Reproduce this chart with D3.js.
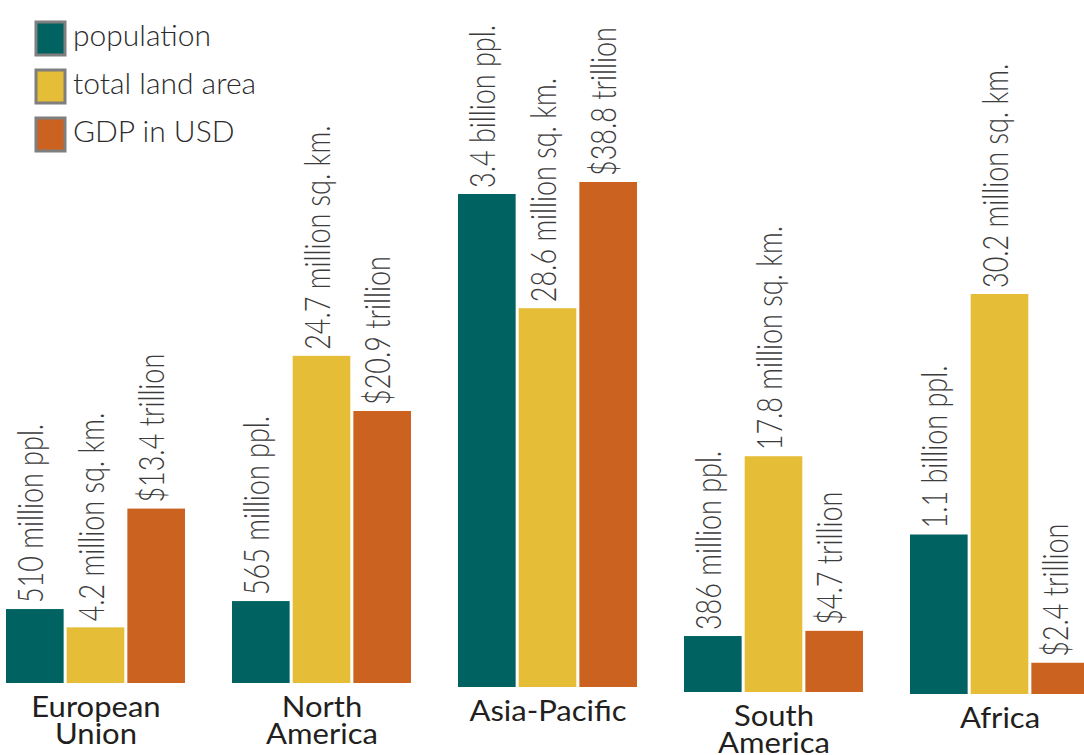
<!DOCTYPE html>
<html>
<head>
<meta charset="utf-8">
<script src="https://cdn.jsdelivr.net/npm/d3@7"></script>
<style>
  html, body { margin: 0; padding: 0; background: #fff; }
  svg { display: block; }
</style>
</head>
<body>
<div id="chart"></div>
<script>
// regions, split in the lines they are printed on
const regions = ["European Union", "North America", "Asia-Pacific", "South America", "Africa"];
const regionLines = [["European", "Union"], ["North", "America"], ["Asia-Pacific"], ["South", "America"], ["Africa"]];

// series values
const metrics = ["population", "total land area", "GDP in USD"];
const population = [510, 565, 3400, 386, 1100];   // million people
const landArea = [4.2, 24.7, 28.6, 17.8, 30.2];     // million sq. km.
const gdp = [13.4, 20.9, 38.8, 4.7, 2.4];           // trillion USD

// value labels
const populationLabels = ["510 million ppl.", "565 million ppl.", "3.4 billion ppl.", "386 million ppl.", "1.1 billion ppl."];
const landLabels = ["4.2 million sq. km.", "24.7 million sq. km.", "28.6 million sq. km.", "17.8 million sq. km.", "30.2 million sq. km."];
const gdpLabels = ["$13.4 trillion", "$20.9 trillion", "$38.8 trillion", "$4.7 trillion", "$2.4 trillion"];

const colors = ["#006361", "#e5bd36", "#cc621f"];

const width = 1084, height = 755;

// the picture's baseline sinks a little to the right
const baselines = [683, 683, 687, 692, 694];

const svg = d3.select("#chart").append("svg")
    .attr("width", width)
    .attr("height", height);

// group and bar positions
const x0 = d3.scaleBand().domain(regions).range([6, 6 + 226 * regions.length]);
const x1 = d3.scaleBand().domain(metrics).range([0, 179]).paddingInner(0.05);

// each metric has its own height scale
const heightScales = [
    d3.scaleLinear().domain([0, 3400]).range([0, 493]),
    d3.scaleLinear().domain([0, 30.2]).range([0, 400]),
    d3.scaleLinear().domain([0, 38.8]).range([0, 505])
];
const seriesValues = [population, landArea, gdp];
const seriesLabels = [populationLabels, landLabels, gdpLabels];

const bars = regions.flatMap((region, i) => metrics.map((m, j) => ({
    region, i, metric: m, j,
    value: seriesValues[j][i],
    label: seriesLabels[j][i]
})));

const barX = d => x0(d.region) + x1(d.metric);
const barTop = d => baselines[d.i] - heightScales[d.j](d.value);

// draw the bars
svg.append("g")
    .selectAll("rect")
    .data(bars)
    .join("rect")
    .attr("x", barX)
    .attr("y", barTop)
    .attr("width", x1.bandwidth())
    .attr("height", d => heightScales[d.j](d.value))
    .attr("fill", d => colors[d.j]);

// rotated value labels above the bars (glyphs widened like the reference)
svg.append("g")
    .attr("font-family", "Lato, 'Open Sans', sans-serif")
    .attr("font-weight", 300)
    .attr("font-size", 27)
    .attr("fill", "#3c3c3c")
    .selectAll("text")
    .data(bars)
    .join("text")
    .attr("transform", d => `translate(${barX(d) + x1.bandwidth() / 2 + 8},${barTop(d) - 6}) scale(1.3,1) rotate(-90)`)
    .text(d => d.label);

// region names under each group
const names = svg.append("g")
    .attr("font-family", "Lato, 'Open Sans', sans-serif")
    .attr("font-size", 29)
    .attr("fill", "#231f20")
    .attr("text-anchor", "middle")
    .selectAll("text")
    .data(regions)
    .join("text")
    .attr("transform", (d, i) => `translate(${x0(d) + 90},${baselines[i] + 34}) scale(1.07,1)`);

names.selectAll("tspan")
    .data((d, i) => regionLines[i])
    .join("tspan")
    .attr("x", 0)
    .attr("y", (d, k) => k * 27)
    .text(d => d);

// legend
const legend = svg.append("g")
    .selectAll("g")
    .data(metrics)
    .join("g")
    .attr("transform", (d, j) => `translate(36,${22 + j * 48})`);

legend.append("rect")
    .attr("width", 29)
    .attr("height", 33)
    .attr("fill", (d, j) => colors[j])
    .attr("stroke", "#7f7f7f")
    .attr("stroke-width", 3);

legend.append("text")
    .attr("transform", "translate(37,24)")
    .attr("font-family", "Lato, 'Open Sans', sans-serif")
    .attr("font-weight", 300)
    .attr("font-size", 30)
    .attr("fill", "#2b2b2b")
    .text(d => d);
</script>
</body>
</html>
